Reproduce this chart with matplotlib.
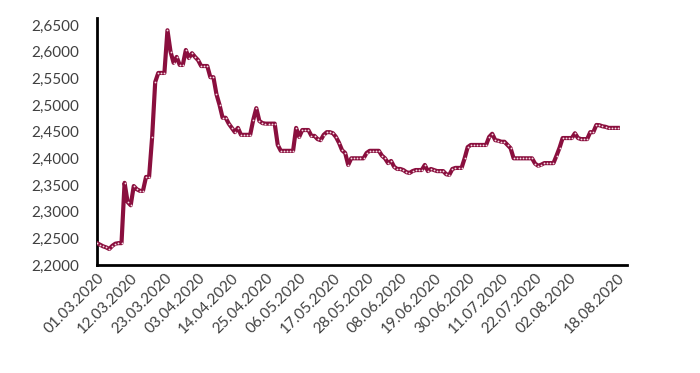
import matplotlib
matplotlib.use("Agg")
import matplotlib.pyplot as plt
import pandas as pd
from matplotlib.ticker import FuncFormatter

# daily values, 01.03.2020 .. 18.08.2020
values = [
    2.241, 2.238, 2.235, 2.233, 2.230, 2.236, 2.240, 2.241, 2.241, 2.354,
    2.318, 2.312, 2.348, 2.342, 2.339, 2.339, 2.365, 2.365, 2.440, 2.543,
    2.560, 2.560, 2.560, 2.640, 2.600, 2.579, 2.590, 2.575, 2.575, 2.603,
    2.588, 2.597, 2.590, 2.584, 2.573, 2.573, 2.573, 2.552, 2.552, 2.520,
    2.500, 2.476, 2.476, 2.465, 2.457, 2.449, 2.457, 2.444, 2.444, 2.444,
    2.444, 2.472, 2.494, 2.470, 2.466, 2.465, 2.465, 2.465, 2.465, 2.425,
    2.414, 2.414, 2.414, 2.414, 2.414, 2.457, 2.440, 2.453, 2.453, 2.453,
    2.442, 2.442, 2.436, 2.434, 2.444, 2.449, 2.449, 2.447, 2.440, 2.429,
    2.415, 2.410, 2.3875, 2.400, 2.400, 2.400, 2.400, 2.400, 2.410, 2.414,
    2.414, 2.414, 2.414, 2.405, 2.400, 2.391, 2.395, 2.384, 2.380, 2.380,
    2.378, 2.374, 2.3725, 2.376, 2.378, 2.378, 2.378, 2.3875, 2.376, 2.380,
    2.378, 2.376, 2.376, 2.376, 2.370, 2.369, 2.380, 2.382, 2.382, 2.382,
    2.400, 2.421, 2.425, 2.425, 2.425, 2.425, 2.425, 2.425, 2.440, 2.446,
    2.434, 2.433, 2.431, 2.431, 2.425, 2.419, 2.400, 2.400, 2.400, 2.400,
    2.400, 2.400, 2.400, 2.390, 2.386, 2.388, 2.391, 2.391, 2.391, 2.391,
    2.405, 2.420, 2.438, 2.438, 2.438, 2.438, 2.447, 2.438, 2.436, 2.436,
    2.436, 2.449, 2.449, 2.4625, 2.462, 2.460, 2.459, 2.457, 2.457, 2.457,
    2.457,
]
dates = pd.date_range("2020-03-01", periods=len(values), freq="D")
date_labels = [d.strftime("%d.%m.%Y") for d in dates]

tick_labels = ["01.03.2020", "12.03.2020", "23.03.2020", "03.04.2020",
               "14.04.2020", "25.04.2020", "06.05.2020", "17.05.2020",
               "28.05.2020", "08.06.2020", "19.06.2020", "30.06.2020",
               "11.07.2020", "22.07.2020", "02.08.2020", "18.08.2020"]
y_ticks = [2.20, 2.25, 2.30, 2.35, 2.40, 2.45, 2.50, 2.55, 2.60, 2.65]

line_color = "#8a0f3e"
text_color = "#404040"

plt.rcParams['font.family'] = ['Lato', 'DejaVu Sans']

fig = plt.figure(figsize=(7.0, 3.73), dpi=100)
ax = fig.add_axes([97/700, 1-265/373, 530/700, 247/373])

x = list(range(len(values)))
ax.plot(x, values, color=line_color, lw=3.0, solid_joinstyle='round',
        marker='o', markersize=1.3, markerfacecolor="#f4dbe3",
        markeredgewidth=0, zorder=3)

ax.set_xlim(0, 173)
ax.set_ylim(2.20, 2.663)
ax.set_yticks(y_ticks)
ax.yaxis.set_major_formatter(FuncFormatter(lambda v, p: f"{v:.4f}".replace(".", ",")))

tick_pos = [date_labels.index(t) for t in tick_labels]
ax.set_xticks(tick_pos)
ax.set_xticklabels(tick_labels, rotation=45, ha='right', rotation_mode='anchor')

ax.tick_params(axis='both', length=0, labelsize=11, colors=text_color)
ax.tick_params(axis='y', pad=13)
ax.tick_params(axis='x', pad=4)

for s in ['top', 'right']:
    ax.spines[s].set_visible(False)
for s in ['left', 'bottom']:
    ax.spines[s].set_linewidth(2.0)
    ax.spines[s].set_color('black')

fig.savefig("out.png", dpi=100)
